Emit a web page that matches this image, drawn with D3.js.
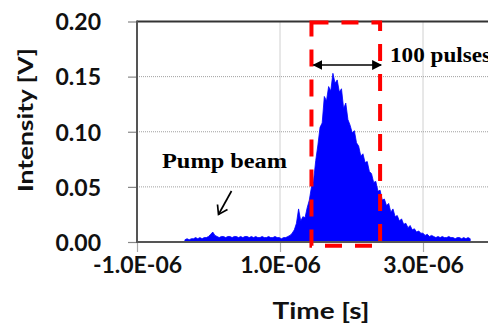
<!DOCTYPE html>
<html>
<head>
<meta charset="utf-8">
<script src="https://cdn.jsdelivr.net/npm/d3@7"></script>
<style>
  html, body { margin: 0; padding: 0; background: #fff; }
  svg { display: block; }
</style>
</head>
<body>
<svg id="chart" width="488" height="327"></svg>
<script>
// ---- data ----
const sampleStart = -0.33e-6;   // first sample time [s]
const sampleStep = 0.03e-6;     // sample spacing [s]
const intensity = [
  0.002,0.003,0.002,0.003,0.003,0.004,0.003,0.004,0.003,0.004,
  0.004,0.005,0.007,0.009,0.006,0.005,0.004,0.005,0.005,0.004,
  0.005,0.005,0.004,0.005,0.005,0.004,0.005,0.004,0.005,0.005,
  0.004,0.005,0.004,0.005,0.004,0.004,0.005,0.004,0.004,0.005,
  0.004,0.004,0.005,0.004,0.004,0.003,0.004,0.004,0.005,0.006,
  0.008,0.011,0.017,0.030,0.019,0.023,0.022,0.031,0.038,0.050,
  0.056,0.074,0.088,0.104,0.108,0.132,0.128,0.141,0.137,0.153,
  0.144,0.147,0.136,0.139,0.121,0.126,0.111,0.106,0.099,0.101,
  0.090,0.087,0.078,0.080,0.072,0.073,0.064,0.062,0.054,0.055,
  0.046,0.047,0.038,0.039,0.033,0.035,0.027,0.030,0.023,0.024,
  0.019,0.021,0.016,0.017,0.013,0.015,0.011,0.012,0.009,0.010,
  0.008,0.008,0.006,0.007,0.005,0.006,0.005,0.004,0.005,0.004,
  0.005,0.004,0.004,0.005,0.004,0.004,0.003,0.004,0.004,0.003,
  0.004,0.003,0.004,0.003
];
const xTickValues = [-1e-6, 1e-6, 3e-6];
const xTickLabels = ["-1.0E-06", "1.0E-06", "3.0E-06"];
const yTickValues = [0, 0.05, 0.10, 0.15, 0.20];
const yTickLabels = ["0.00", "0.05", "0.10", "0.15", "0.20"];
const windowStart = 1.44e-6, windowEnd = 2.40e-6;   // 100-pulse window
const pumpLabel = "Pump beam";
const pulseLabel = "100 pulses";
const xTitle = "Time [s]";
const yTitle = "Intensity [V]";

// ---- chart ----
const svg = d3.select("#chart");
const x = d3.scaleLinear().domain([-1e-6, 5e-6]).range([137, 566]);
const y = d3.scaleLinear().domain([0, 0.20]).range([242, 21.5]);
const sansFont = "Lato, 'Open Sans', sans-serif";
const serifFont = "'Liberation Serif', 'DejaVu Serif', serif";

const data = intensity.map((v, i) => ({ t: sampleStart + i * sampleStep, v }));

// grid lines
svg.append("g").selectAll("line").data(yTickValues.filter(d => d > 0 && d < 0.2))
  .join("line")
  .attr("x1", x(-1e-6)).attr("x2", x(5e-6))
  .attr("y1", d => y(d)).attr("y2", d => y(d))
  .attr("stroke", "#a0a0a0").attr("stroke-width", 1).attr("stroke-dasharray", "1,1");
svg.append("g").selectAll("line").data(xTickValues.filter(d => d > -1e-6))
  .join("line")
  .attr("x1", d => x(d)).attr("x2", d => x(d))
  .attr("y1", y(0.2)).attr("y2", y(0))
  .attr("stroke", "#a0a0a0").attr("stroke-width", 1).attr("stroke-dasharray", "1,1");

// signal area
const area = d3.area().x(d => x(d.t)).y0(y(0)).y1(d => y(d.v)).curve(d3.curveLinear);
svg.append("path").datum(data).attr("d", area)
  .attr("fill", "#0000ff").attr("stroke", "#0000ff").attr("stroke-width", 0.8);

// axes
const yAxis = d3.axisLeft(y).tickValues(yTickValues).tickSize(9).tickFormat((d, i) => yTickLabels[i]);
const gy = svg.append("g").attr("transform", `translate(${x(-1e-6)},0)`).call(yAxis);
gy.select(".domain").remove();
gy.selectAll(".tick line").attr("stroke", "#888").attr("stroke-width", 1.2);
gy.selectAll(".tick text").attr("x", -36).attr("dy", "0.36em")
  .attr("font-family", sansFont).attr("font-weight", 700).attr("font-size", 23).attr("fill", "#111");

const xAxis = d3.axisBottom(x).tickValues(xTickValues).tickSize(10).tickFormat((d, i) => xTickLabels[i]);
const gx = svg.append("g").attr("transform", `translate(0,${y(0)})`).call(xAxis);
gx.select(".domain").remove();
gx.selectAll(".tick line").attr("stroke", "#aaa").attr("stroke-width", 1.2);
gx.selectAll(".tick text").attr("y", 31).attr("dy", 0)
  .attr("font-family", sansFont).attr("font-weight", 700).attr("font-size", 23).attr("fill", "#111");

// frame lines
svg.append("line").attr("x1", x(-1e-6)).attr("x2", x(5e-6)).attr("y1", y(0.2)).attr("y2", y(0.2))
  .attr("stroke", "#333").attr("stroke-width", 2);
svg.append("line").attr("x1", x(-1e-6)).attr("x2", x(-1e-6)).attr("y1", y(0.2) - 1).attr("y2", y(0) + 1)
  .attr("stroke", "#555").attr("stroke-width", 2);
svg.append("line").attr("x1", x(-1e-6)).attr("x2", x(5e-6)).attr("y1", y(0)).attr("y2", y(0))
  .attr("stroke", "#555").attr("stroke-width", 2);

// red dashed window
svg.append("rect")
  .attr("x", x(windowStart)).attr("y", y(0.199))
  .attr("width", x(windowEnd) - x(windowStart)).attr("height", y(-0.0035) - y(0.199))
  .attr("fill", "none").attr("stroke", "#ff0000").attr("stroke-width", 4)
  .attr("stroke-dasharray", "17,13");

// double arrow
const defs = svg.append("defs");
defs.append("marker").attr("id", "ah").attr("viewBox", "0 0 10 10").attr("refX", 9).attr("refY", 5)
  .attr("markerWidth", 10).attr("markerHeight", 10).attr("markerUnits", "userSpaceOnUse")
  .attr("orient", "auto-start-reverse")
  .append("path").attr("d", "M0,0 L10,5 L0,10 Z").attr("fill", "#000");
svg.append("line")
  .attr("x1", x(windowStart) + 2).attr("x2", x(windowEnd) + 1)
  .attr("y1", y(0.1605)).attr("y2", y(0.1605))
  .attr("stroke", "#000").attr("stroke-width", 1.5)
  .attr("marker-start", "url(#ah)").attr("marker-end", "url(#ah)");

svg.append("text").attr("x", 390).attr("y", 62).text(pulseLabel)
  .attr("font-family", serifFont).attr("font-weight", 700).attr("font-size", 21)
  .attr("textLength", 101).attr("lengthAdjust", "spacingAndGlyphs").attr("fill", "#000");

// pump beam label + arrow
svg.append("text").attr("x", 162).attr("y", 168).text(pumpLabel)
  .attr("font-family", serifFont).attr("font-weight", 700).attr("font-size", 21)
  .attr("textLength", 125).attr("lengthAdjust", "spacingAndGlyphs").attr("fill", "#000");
const tail = [231.5, 191], tip = [218.5, 214.5];
svg.append("line").attr("x1", tail[0]).attr("y1", tail[1]).attr("x2", tip[0]).attr("y2", tip[1])
  .attr("stroke", "#000").attr("stroke-width", 1.7);
svg.append("path")
  .attr("d", `M${tip[0] - 1},${tip[1] - 10} L${tip[0]},${tip[1]} L${tip[0] + 9},${tip[1] - 5}`)
  .attr("fill", "none").attr("stroke", "#000").attr("stroke-width", 1.7);

// axis titles
svg.append("text").attr("x", 321).attr("y", 319).attr("text-anchor", "middle").text(xTitle)
  .attr("font-family", sansFont).attr("font-weight", 700).attr("font-size", 22)
  .attr("textLength", 97).attr("lengthAdjust", "spacingAndGlyphs").attr("fill", "#111");
svg.append("text").attr("transform", "translate(33,120) rotate(-90)")
  .attr("text-anchor", "middle").text(yTitle)
  .attr("font-family", sansFont).attr("font-weight", 700).attr("font-size", 21)
  .attr("textLength", 144).attr("lengthAdjust", "spacingAndGlyphs").attr("fill", "#111");
</script>
</body>
</html>
